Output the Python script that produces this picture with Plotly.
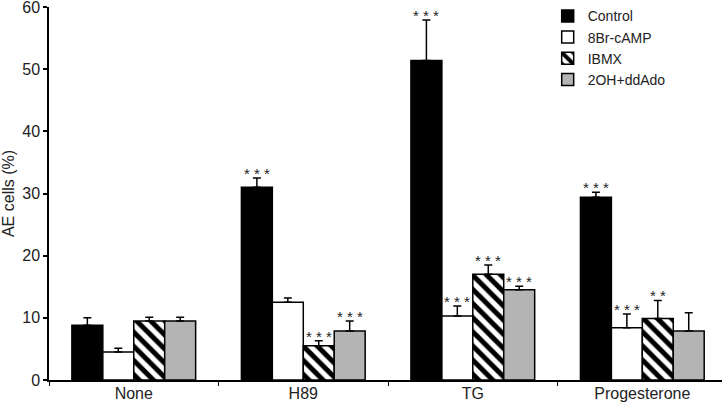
import plotly.graph_objects as go

categories = ["None", "H89", "TG", "Progesterone"]
series_names = ["Control", "8Br-cAMP", "IBMX", "2OH+ddAdo"]
control = [8.8, 31.0, 51.4, 29.4]
control_err = [1.2, 1.5, 6.5, 0.8]
br_camp = [4.5, 12.5, 10.3, 8.4]
br_camp_err = [0.6, 0.7, 1.6, 2.2]
ibmx = [9.5, 5.5, 17.0, 9.9]
ibmx_err = [0.6, 0.8, 1.5, 2.9]
ohdd = [9.5, 7.9, 14.5, 7.9]
ohdd_err = [0.6, 1.6, 0.6, 2.9]
stars = [
    ["", "***", "***", "***"],
    ["", "", "***", "***"],
    ["", "***", "***", "**"],
    ["", "***", "***", ""],
]

values = [control, br_camp, ibmx, ohdd]
errors = [control_err, br_camp_err, ibmx_err, ohdd_err]
fills = ["black", "white", "white", "#b4b4b4"]
patterns = [None, None, dict(shape="\\", fgcolor="black", bgcolor="white", size=10, solidity=0.5), None]

FONT = "Liberation Sans, Arial, sans-serif"

fig = go.Figure()
for name, v, e, c, p in zip(series_names, values, errors, fills, patterns):
    marker = dict(color=c, line=dict(color="black", width=1.5))
    if p:
        marker["pattern"] = p
    fig.add_trace(go.Bar(
        x=categories, y=v, name=name, marker=marker,
        error_y=dict(type="data", array=e, arrayminus=[0] * len(e), symmetric=False,
                     color="black", thickness=1.5, width=4),
    ))

bargap = 0.27
w = (1 - bargap) / 4
for si, st in enumerate(stars):
    for ci, s in enumerate(st):
        if not s:
            continue
        xpos = ci + (si - 1.5) * w
        fig.add_annotation(
            x=xpos, y=values[si][ci] + errors[si][ci], xref="x", yref="y",
            text=" ".join(s), showarrow=False, yanchor="bottom", yshift=-6,
            font=dict(size=15, color="#222222", family=FONT),
        )

fig.update_layout(
    template="none",
    width=722, height=404,
    margin=dict(l=49, r=0, t=7, b=24),
    paper_bgcolor="white", plot_bgcolor="white",
    barmode="group", bargap=bargap, bargroupgap=0,
    font=dict(family=FONT, size=16, color="#222222"),
    showlegend=True,
    legend=dict(x=0.741, y=1.018, xanchor="left", yanchor="top",
                font=dict(size=14, color="#222222"), bgcolor="rgba(0,0,0,0)",
                itemwidth=30, tracegroupgap=0),
)
fig.update_xaxes(
    type="category", range=[-0.5, 3.47], showline=True, linecolor="black", linewidth=1.5,
    ticks="outside", tickson="boundaries", ticklen=4, tickcolor="black", tickwidth=1,
    showgrid=False, zeroline=False, automargin=False, ticklabelstandoff=-2,
)
fig.update_yaxes(
    range=[0, 60], dtick=10, showline=True, linecolor="black", linewidth=1.5,
    ticks="outside", ticklen=4, tickcolor="black", tickwidth=1.5, showgrid=False, zeroline=False,
    automargin=False, ticklabeloverflow="allow",
    title=dict(text="AE cells (%)", standoff=6, font=dict(size=16)),
)

fig.write_html("out.html", config={"displayModeBar": False},
               post_script="document.body.style.margin='0';")
